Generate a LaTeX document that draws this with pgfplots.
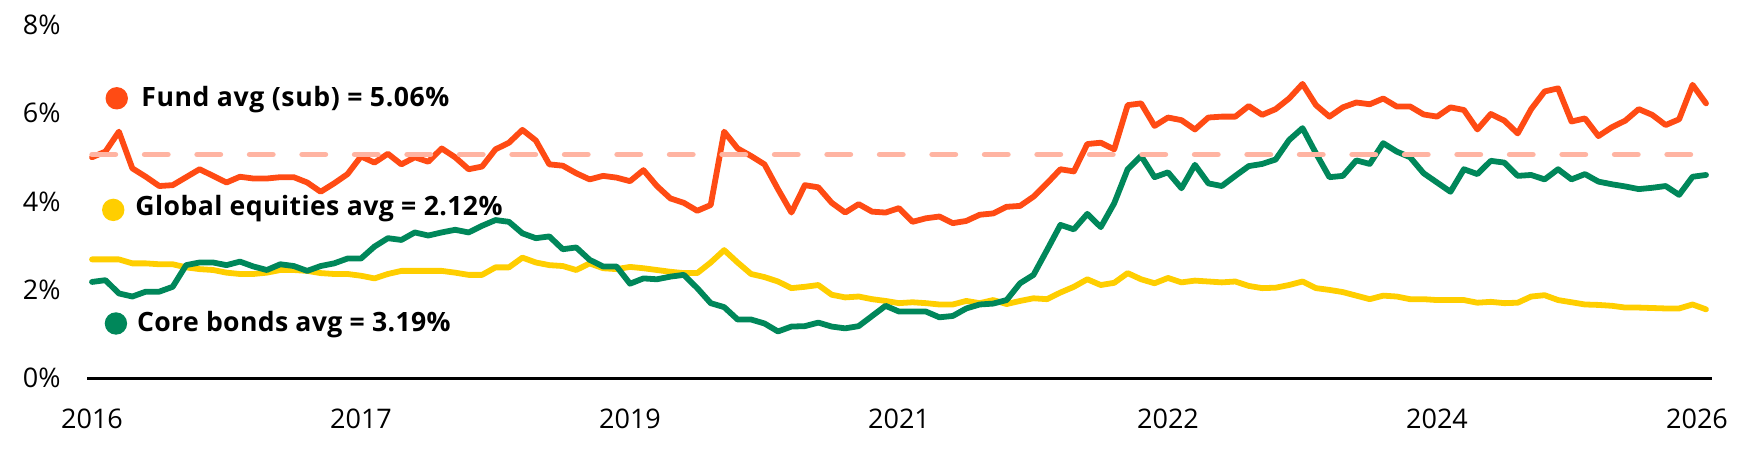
\documentclass[border=0pt]{standalone}
\usepackage{fontspec}
\setmainfont{Open Sans}
\usepackage{pgfplots}
\usepackage{pgfplotstable}
\pgfplotsset{compat=1.18}

\definecolor{fundorange}{RGB}{255,75,20}
\definecolor{equityyellow}{RGB}{255,206,0}
\definecolor{bondgreen}{RGB}{0,135,90}
\definecolor{avgpink}{RGB}{255,180,162}

% Monthly yields, month 0 = Jan 2016
\pgfplotstableread{
m fund equities bonds
0 5.00 2.69 2.18
1 5.13 2.69 2.22
2 5.58 2.69 1.92
3 4.75 2.60 1.85
4 4.56 2.60 1.96
5 4.35 2.58 1.96
6 4.37 2.58 2.07
7 4.55 2.51 2.56
8 4.73 2.47 2.62
9 4.58 2.45 2.62
10 4.43 2.39 2.56
11 4.56 2.36 2.64
12 4.52 2.36 2.53
13 4.52 2.39 2.45
14 4.55 2.45 2.58
15 4.55 2.45 2.54
16 4.43 2.43 2.43
17 4.22 2.38 2.54
18 4.41 2.36 2.60
19 4.62 2.36 2.71
20 5.02 2.32 2.71
21 4.88 2.26 2.98
22 5.08 2.36 3.17
23 4.84 2.43 3.13
24 5.00 2.43 3.30
25 4.90 2.43 3.23
26 5.20 2.43 3.30
27 5.00 2.39 3.36
28 4.73 2.34 3.30
29 4.79 2.34 3.45
30 5.18 2.51 3.58
31 5.33 2.51 3.54
32 5.62 2.73 3.28
33 5.38 2.62 3.17
34 4.84 2.56 3.21
35 4.81 2.54 2.92
36 4.64 2.45 2.96
37 4.50 2.60 2.68
38 4.58 2.49 2.53
39 4.54 2.47 2.53
40 4.46 2.52 2.14
41 4.71 2.49 2.26
42 4.35 2.45 2.24
43 4.07 2.41 2.30
44 3.97 2.38 2.34
45 3.79 2.38 2.04
46 3.92 2.62 1.70
47 5.58 2.90 1.61
48 5.20 2.62 1.33
49 5.03 2.36 1.33
50 4.84 2.29 1.24
51 4.28 2.19 1.06
52 3.75 2.04 1.17
53 4.37 2.07 1.18
54 4.32 2.11 1.26
55 3.97 1.89 1.17
56 3.75 1.83 1.13
57 3.94 1.85 1.18
58 3.77 1.79 1.41
59 3.75 1.75 1.64
60 3.85 1.70 1.51
61 3.54 1.72 1.51
62 3.62 1.70 1.51
63 3.66 1.67 1.38
64 3.51 1.67 1.41
65 3.56 1.75 1.58
66 3.70 1.70 1.67
67 3.73 1.77 1.69
68 3.88 1.68 1.77
69 3.90 1.75 2.15
70 4.11 1.81 2.34
71 4.41 1.79 2.90
72 4.73 1.94 3.47
73 4.68 2.07 3.37
74 5.30 2.24 3.72
75 5.33 2.11 3.42
76 5.18 2.16 3.96
77 6.18 2.38 4.73
78 6.22 2.24 5.03
79 5.71 2.15 4.55
80 5.90 2.27 4.66
81 5.84 2.17 4.30
82 5.63 2.21 4.83
83 5.90 2.19 4.41
84 5.92 2.17 4.35
85 5.92 2.19 4.58
86 6.16 2.09 4.80
87 5.96 2.04 4.85
88 6.09 2.05 4.95
89 6.33 2.11 5.39
90 6.66 2.19 5.66
91 6.18 2.04 5.09
92 5.92 2.00 4.55
93 6.13 1.95 4.58
94 6.24 1.87 4.93
95 6.20 1.79 4.85
96 6.33 1.87 5.32
97 6.15 1.85 5.13
98 6.15 1.79 5.00
99 5.97 1.79 4.64
100 5.92 1.77 4.43
101 6.13 1.77 4.22
102 6.07 1.77 4.73
103 5.63 1.71 4.62
104 5.98 1.73 4.92
105 5.83 1.70 4.88
106 5.54 1.71 4.58
107 6.09 1.85 4.60
108 6.49 1.88 4.50
109 6.56 1.77 4.73
110 5.81 1.72 4.50
111 5.88 1.67 4.62
112 5.48 1.66 4.45
113 5.68 1.64 4.39
114 5.83 1.60 4.34
115 6.09 1.60 4.28
116 5.96 1.59 4.31
117 5.73 1.58 4.35
118 5.86 1.58 4.15
119 6.64 1.67 4.56
120 6.22 1.56 4.60
}\yields

\newcommand\keyfont[1]{\fontsize{13.3pt}{16pt}\selectfont\bfseries\addfontfeatures{LetterSpace=#1}}

\begin{document}
\begin{tikzpicture}
\useasboundingbox (-43.5pt,-37.35pt) rectangle (829pt,189.15pt);
\begin{axis}[
  at={(0pt,0pt)}, anchor=south west,
  scale only axis,
  width=812.5pt, height=176.8pt,
  xmin=-0.372, xmax=120.446, ymin=0, ymax=8,
  axis x line=bottom, axis y line=left,
  x axis line style={-, line width=1.6pt, black},
  y axis line style={draw=none},
  major tick length=0pt,
  xtick={0,20,40,60,80,100,120},
  xticklabels={2016,2017,2019,2021,2022,2024,2026\hspace*{9pt}},
  ytick={0,2,4,6,8},
  yticklabels={0\%,2\%,4\%,6\%,8\%},
  tick label style={font=\fontsize{13.5pt}{16pt}\selectfont, inner sep=0pt},
  xticklabel style={anchor=north, yshift=-15pt},
  yticklabel style={anchor=east, xshift=-13pt},
  clip=false,
  no markers,
  every axis plot/.append style={line width=2.9pt, line join=round, line cap=round},
]
\addplot[equityyellow] table[x=m, y=equities]{\yields};
\addplot[bondgreen] table[x=m, y=bonds]{\yields};
\addplot[fundorange] table[x=m, y=fund]{\yields};
% fund average over the period
\addplot[avgpink, line width=2.7pt, dash pattern=on 11.75pt off 14.5pt] coordinates {(0,5.06) (120,5.06)};

\fill[fundorange] (axis cs:1.84,6.335) circle[radius=5.6pt];
\node[anchor=base west, inner sep=0pt, font=\keyfont{2.2}] at (axis cs:3.64,6.16) {Fund avg (sub) = 5.06\%};
\fill[equityyellow] (axis cs:1.58,3.81) circle[radius=5.6pt];
\node[anchor=base west, inner sep=0pt, font=\keyfont{1.6}] at (axis cs:3.20,3.68) {Global equities avg = 2.12\%};
\fill[bondgreen] (axis cs:1.78,1.24) circle[radius=5.6pt];
\node[anchor=base west, inner sep=0pt, font=\keyfont{1.3}] at (axis cs:3.32,1.054) {Core bonds avg = 3.19\%};
\end{axis}
\end{tikzpicture}
\end{document}
